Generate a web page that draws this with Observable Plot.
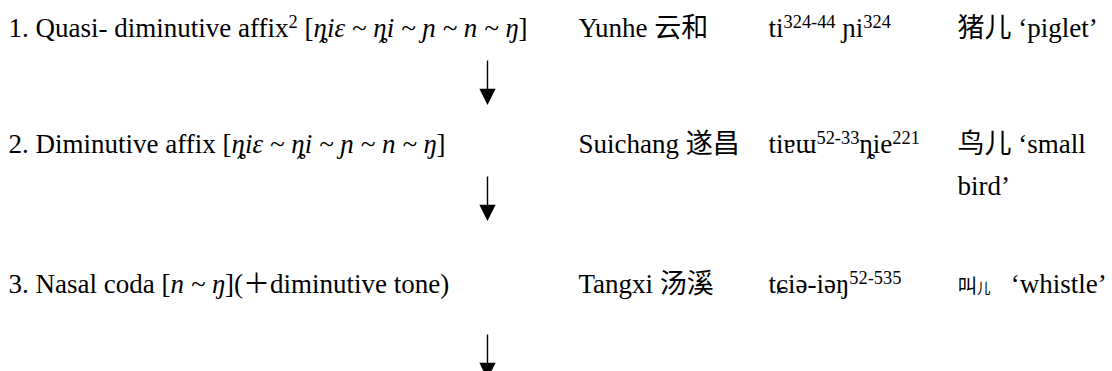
<!DOCTYPE html>
<html>
<head>
<meta charset="utf-8">
<script src="https://cdn.jsdelivr.net/npm/d3@7"></script>
<script src="https://cdn.jsdelivr.net/npm/@observablehq/plot@0.6"></script>
<style>
  html, body { margin: 0; padding: 0; background: #fff; }
  #chart svg { display: block; background: #fff; }
</style>
</head>
<body>
<div id="chart"></div>
<script>
// ---- content (markup: ^{..} superscript, _{..} italic, #{..} small, %{..} smaller character) ----
const stages = [
  "1. Quasi- diminutive affix^{2} [_{ȵiɛ ~ ȵi ~ ɲ ~ n ~ ŋ}]",
  "2. Diminutive affix [_{ȵiɛ ~ ȵi ~ ɲ ~ n ~ ŋ}]",
  "3. Nasal coda [_{n ~ ŋ}](＋diminutive tone)"
];
const places = ["Yunhe 云和", "Suichang 遂昌", "Tangxi 汤溪"];
const forms = ["ti^{324-44} ɲi^{324}", "tiɐɯ^{52-33}ȵie^{221}", "tɕiə-iəŋ^{52-535}"];
const glosses = ["猪儿 ‘piglet’", "鸟儿 ‘small\nbird’", "#{叫}%{儿}\u2002 ‘whistle’"];
const columns = ["stage", "arrow", "place", "form", "gloss"];
const rowIds = [0, 1, 2];

// ---- layout / style ----
const FS = 27;
const LH = 1.55;
const FONT = "'Liberation Serif', 'DejaVu Serif', 'Noto Sans CJK SC', serif";
const SUP = 0.68, SUP_SHIFT = 0.37 * FS, SMALL = 0.72, SMALLER = 0.5;

const cells = [];
rowIds.forEach((r) => {
  cells.push({row: r, col: columns.indexOf("stage"), text: stages[r]});
  cells.push({row: r, col: columns.indexOf("place"), text: places[r]});
  cells.push({row: r, col: columns.indexOf("form"), text: forms[r]});
  cells.push({row: r, col: columns.indexOf("gloss"), text: glosses[r]});
});

// custom downward arrow symbol (shaft + filled head), relative to the row baseline
function arrowSymbol(top, tip) {
  return {
    draw(context, size) {
      const r = Math.sqrt(size / Math.PI);
      context.moveTo(0, top);
      context.lineTo(0, tip - 2 * r);
      context.moveTo(0, tip);
      context.lineTo(-r, tip - 2 * r);
      context.lineTo(r, tip - 2 * r);
      context.closePath();
    }
  };
}

const plot = Plot.plot({
  width: 1112,
  height: 371,
  margin: 0,
  style: {background: "#fff", color: "black"},
  x: {type: "linear", domain: [0, 1, 2, 3, 4], range: [8, 487, 578, 768, 957], axis: null},
  y: {type: "linear", domain: [0, 1, 2], range: [37, 153, 293], axis: null},
  marks: [
    Plot.text(cells, {
      x: "col", y: "row", text: "text",
      textAnchor: "start", lineAnchor: "top", lineHeight: LH,
      dy: -0.71 * LH * FS,
      fontSize: FS, fontFamily: FONT, fill: "black"
    }),
    Plot.dot(rowIds.slice(0, 2), {
      x: () => columns.indexOf("arrow"), y: (d) => d,
      symbol: arrowSymbol(23, 66), r: 7,
      fill: "black", stroke: "black", strokeWidth: 1.4
    }),
    Plot.dot(rowIds.slice(2), {
      x: () => columns.indexOf("arrow"), y: (d) => d,
      symbol: arrowSymbol(41, 84), r: 7,
      fill: "black", stroke: "black", strokeWidth: 1.4
    })
  ]
});

// rich-text post-processing: superscripts, italics, small characters
const NS = "http://www.w3.org/2000/svg";
plot.querySelectorAll("text").forEach((el) => {
  const s = el.textContent;
  if (!/[\^_#%]\{/.test(s)) return;
  el.textContent = "";
  const re = /([\^_#%])\{([^}]*)\}/g;
  let last = 0, cur = 0, m;
  const add = (str, kind) => {
    if (!str) return;
    const t = document.createElementNS(NS, "tspan");
    let target = 0;
    if (kind === "^") { target = -SUP_SHIFT; t.setAttribute("font-size", SUP * FS); }
    else if (kind === "#") { t.setAttribute("font-size", SMALL * FS); }
    else if (kind === "%") { t.setAttribute("font-size", SMALLER * FS); }
    else if (kind === "_") { t.setAttribute("font-style", "italic"); }
    if (target !== cur) { t.setAttribute("dy", target - cur); cur = target; }
    t.textContent = str;
    el.appendChild(t);
  };
  while ((m = re.exec(s))) {
    add(s.slice(last, m.index), "");
    add(m[2], m[1]);
    last = re.lastIndex;
  }
  add(s.slice(last), "");
});

document.getElementById("chart").appendChild(plot);
</script>
</body>
</html>
